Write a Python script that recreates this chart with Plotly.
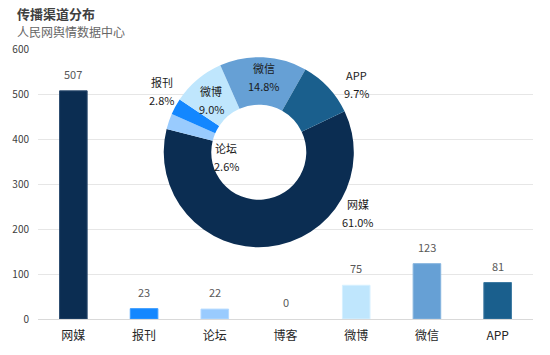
import plotly.graph_objects as go

categories = ["网媒", "报刊", "论坛", "博客", "微博", "微信", "APP"]
values = [507, 23, 22, 0, 75, 123, 81]
colors = ["#0b2d52", "#1387ff", "#99cbfe", "#8fb8e0", "#bfe6fd", "#66a0d5", "#1a5f8d"]
line_colors = ["#2a4a6e", "#3a9bff", "#b3d9ff", "#aaccee", "#d6f0ff", "#85b4de", "#3a78a0"]
pie_order = ["网媒", "论坛", "报刊", "微博", "微信", "APP"]
y_ticks = [0, 100, 200, 300, 400, 500, 600]
title_text = "传播渠道分布"
subtitle_text = "人民网舆情数据中心"

W, H = 550, 355
L, R, T, B = 33, 17, 49, 34
PW, PH = W - L - R, H - T - B

def px(x):
    return (x - L) / PW

def py(y):
    return (H - B - y) / PH

FONT = "Noto Sans CJK SC, Microsoft YaHei, sans-serif"

fig = go.Figure()
fig.add_trace(go.Bar(
    x=categories, y=values,
    marker=dict(color=colors,
                line=dict(color=line_colors, width=[1 if v > 0 else 0 for v in values])),
    width=0.39, showlegend=False, hoverinfo="x+y",
))

total = sum(values)
pie_vals = [values[categories.index(c)] for c in pie_order]
pie_cols = [colors[categories.index(c)] for c in pie_order]
fig.add_trace(go.Pie(
    labels=pie_order, values=pie_vals, sort=False, direction="clockwise",
    rotation=64.5, hole=0.5, textinfo="none",
    marker=dict(colors=pie_cols, line=dict(width=0)),
    domain=dict(x=[px(160), px(352)], y=[py(249), py(57)]),
    showlegend=False,
))

annotations = []
# bar value labels
for c, v in zip(categories, values):
    annotations.append(dict(x=c, y=v, xref="x", yref="y", text=str(v), showarrow=False,
                            yanchor="bottom", yshift=7,
                            font=dict(family=FONT, size=11, color="#595959")))
# pie labels (name line and percent line)
label_pos = {"报刊": (158, 82), "微博": (208, 91), "微信": (261, 68), "APP": (355, 75),
             "论坛": (223, 149), "网媒": (356, 205)}
for c in pie_order:
    v = values[categories.index(c)]
    x, y = label_pos[c]
    for i, t in enumerate([c, f"{v / total * 100:.1f}%"]):
        annotations.append(dict(x=px(x), y=py(y + 18 * i), xref="paper", yref="paper",
                                text=t, showarrow=False,
                                xanchor="center", yanchor="middle", align="center",
                                font=dict(family=FONT, size=11, color="#1a1a1a")))
annotations.append(dict(x=px(10), y=py(13), xref="paper", yref="paper", text=f"<b>{title_text}</b>",
                        showarrow=False, xanchor="left", yanchor="middle",
                        font=dict(family=FONT, size=13, color="#404040")))
annotations.append(dict(x=px(10), y=py(31), xref="paper", yref="paper", text=subtitle_text,
                        showarrow=False, xanchor="left", yanchor="middle",
                        font=dict(family=FONT, size=12, color="#666666")))

fig.update_layout(
    width=W, height=H, margin=dict(l=L, r=R, t=T, b=B),
    paper_bgcolor="white", plot_bgcolor="white",
    bargap=0.61, annotations=annotations,
    font=dict(family=FONT),
    xaxis=dict(type="category", categoryorder="array", categoryarray=categories,
               showgrid=False, showline=False, ticks="", ticklabelstandoff=8,
               tickfont=dict(family=FONT, size=12, color="#262626")),
    yaxis=dict(range=[0, 600], tickvals=y_ticks, showgrid=True, gridcolor="#e6e6e6",
               gridwidth=1, zeroline=True, zerolinecolor="#d9d9d9", zerolinewidth=1,
               showline=False, ticks="", ticklabelstandoff=8,
               tickfont=dict(family=FONT, size=10, color="#404040")),
)

fig.write_html("out.html")
